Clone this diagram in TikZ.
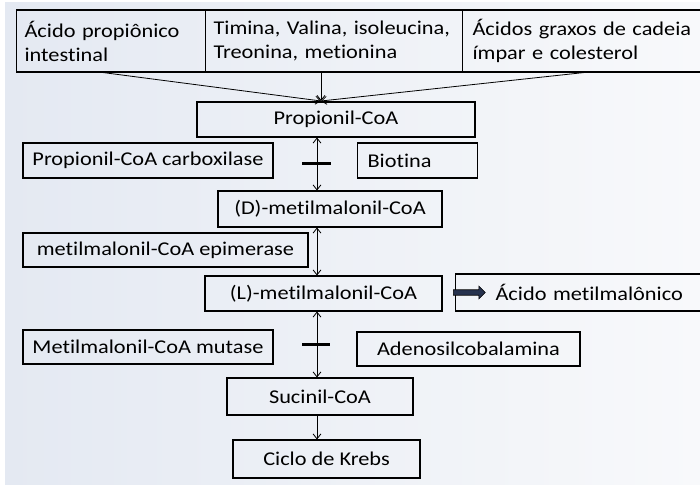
\documentclass[tikz,border=0pt]{standalone}
\usepackage{fontspec}
\setmainfont{Carlito}[FakeStretch=1.145, RawFeature={-liga;-clig;-dlig}]
\usetikzlibrary{arrows.meta,shapes.arrows}

\definecolor{bgleft}{RGB}{228,233,242}
\definecolor{bgright}{RGB}{248,249,251}
\definecolor{arrownavy}{RGB}{38,50,78}

\begin{document}
\begin{tikzpicture}[x=1pt,y=1pt,yscale=-1,
	box/.style={draw, line width=1.1pt, rectangle, inner sep=0pt, minimum height=35, font=\fontsize{19.5}{24}\selectfont},
	lbox/.style={box, align=left, anchor=west},
	link/.style={line width=0.8pt, -{Straight Barb[length=5pt,width=8pt]}},
	both/.style={line width=0.8pt, {Straight Barb[length=5pt,width=8pt]}-{Straight Barb[length=5pt,width=8pt]}},
	bar/.style={line width=3pt}]
	\useasboundingbox (0,0) rectangle (700,486);
	% fundo
	\fill[white] (0,0) rectangle (700,486);
	\shade[left color=bgleft, right color=bgright] (5,3) rectangle (700,484);
	% origens
	\node[lbox, text width=173, inner xsep=8, minimum height=62] (src1) at (16,41) {Ácido propiônico\\intestinal};
	\node[lbox, text width=241, inner xsep=8, minimum height=62] (src2) at (205,41) {Timina, Valina, isoleucina,\\Treonina, metionina};
	\node[lbox, text width=223, inner xsep=10, minimum height=62] (src3) at (462,41) {Ácidos graxos de cadeia\\ímpar e colesterol};
	% via
	\node[box, minimum width=278] (prop) at (336,119.5) {Propionil-CoA};
	\node[box, minimum width=250] (carb) at (148,160.5) {Propionil-CoA carboxilase};
	\node[lbox, text width=100, inner xsep=10] (biot) at (357,160.5) {Biotina};
	\node[box, minimum width=224, minimum height=36] (dmm) at (330,209) {(D)-metilmalonil-CoA};
	\node[box, minimum width=285, minimum height=34] (epi) at (165.5,250) {metilmalonil-CoA epimerase};
	\node[box, minimum width=237] (lmm) at (323.5,293.5) {(L)-metilmalonil-CoA};
	\node[lbox, text width=200, inner xsep=40, minimum height=37] (acid) at (455,292.5) {Ácido metilmalônico};
	\node[box, minimum width=250, minimum height=34] (mut) at (148,347) {Metilmalonil-CoA mutase};
	\node[box, minimum width=223, minimum height=34] (adeno) at (468.5,349) {Adenosilcobalamina};
	\node[box, minimum width=186, minimum height=37] (suc) at (320,396.5) {Sucinil-CoA};
	\node[box, minimum width=187, minimum height=38] (krebs) at (326.5,459) {Ciclo de Krebs};
	% setas
	\coordinate (spine) at (317,0);
	\coordinate (in) at (321,101);
	\draw[link] ([xshift=-8]src1.south) -- (in);
	\draw[link] (src2.south -| in) -- (in);
	\draw[link] (src3.south) -- (in);
	\draw[both] (prop.south -| spine) -- (dmm.north -| spine) coordinate[pos=0.5] (cut1);
	\draw[both] (dmm.south -| spine) -- (lmm.north -| spine);
	\draw[both] (lmm.south -| spine) -- (suc.north -| spine) coordinate[pos=0.5] (cut2);
	\draw[link] (suc.south -| spine) -- (krebs.north -| spine);
	\draw[bar] (cut1) +(-15,0) -- +(14,0);
	\draw[bar] (cut2) +(-15,0) -- +(13,0);
	\node[single arrow, fill=arrownavy, draw=black, line width=0.6pt, minimum height=32, minimum width=13, inner sep=2.2pt, single arrow head extend=3.5pt, anchor=west] (toacid) at ([xshift=-2]acid.west) {};
\end{tikzpicture}
\end{document}
